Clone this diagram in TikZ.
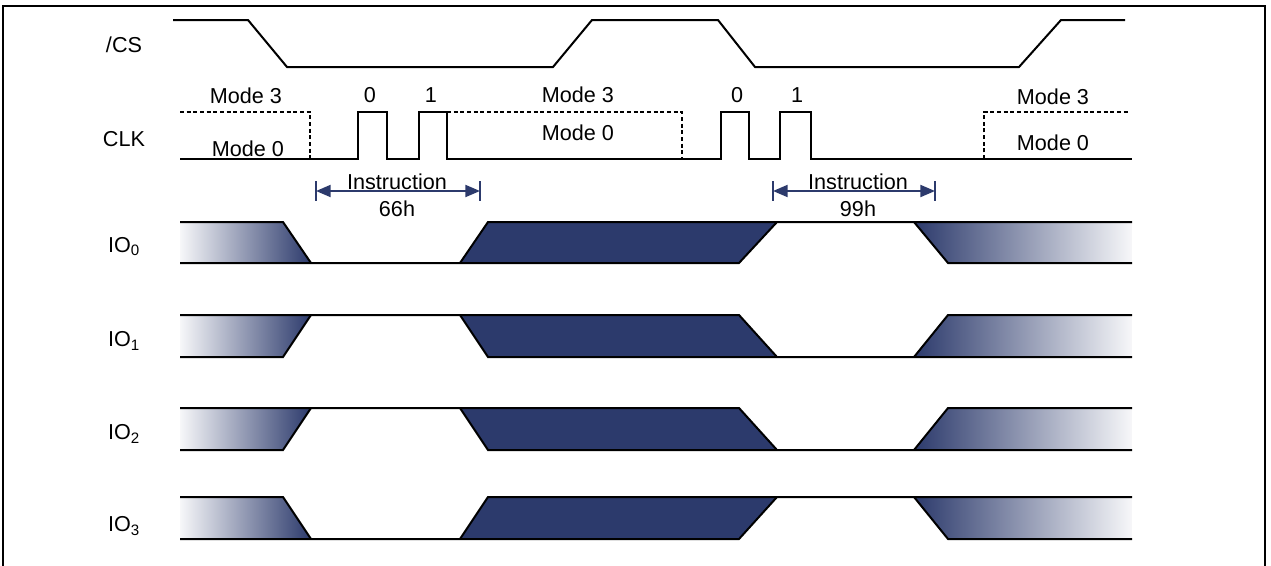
\documentclass[tikz,border=0pt]{standalone}
\usepackage{fontspec}
\setmainfont{Liberation Sans}
\usetikzlibrary{arrows.meta}
\definecolor{navy}{HTML}{2C3A6C}

\begin{document}
\begin{tikzpicture}[x=0.75pt,y=-0.75pt,
  sig/.style={line width=1.5pt},
  dsh/.style={line width=1.4pt,dash pattern=on 3pt off 2pt},
  arr/.style={{Triangle[length=11pt,width=9pt]}-{Triangle[length=11pt,width=9pt]},navy,line width=1.5pt},
  tck/.style={navy,line width=1.2pt},
  lbl/.style={inner sep=0pt,font=\fontsize{16.2}{19}\selectfont}]
\useasboundingbox (0,0) rectangle (1271,565);
\draw[line width=1.5pt] (3,566) -- (3,6) -- (1265,6) -- (1265,566);
% signal names
\node[lbl] (cs) at (124,45) {/CS};
\node[lbl] (clk) at (124,139.5) {CLK};
% chip select
\draw[sig] (173,20) -- (248,20) -- (287,67) -- (553,67) -- (592,20) -- (718,20)
  -- (755,67) -- (1019,67) -- (1061,20) -- (1125,20);
% clock, mode 0 solid and mode 3 dashed
\draw[sig] (180,159) -- (358,159) -- (358,112) -- (387,112) -- (387,159) -- (419,159)
  -- (419,112) -- (447,112) -- (447,159) -- (721,159) -- (721,112) -- (749,112)
  -- (749,159) -- (780,159) -- (780,112) -- (811,112) -- (811,159) -- (1132,159);
\draw[dsh] (180,112) -- (310,112) -- (310,159);
\draw[dsh] (447,112) -- (682,112) -- (682,159);
\draw[dsh] (984,159) -- (984,112) -- (1130,112);
\node[lbl] (m3a) at (246,96) {Mode 3};
\node[lbl] (m0a) at (248,149) {Mode 0};
\node[lbl] (b0a) at (370,95) {0};
\node[lbl] (b1a) at (431,95) {1};
\node[lbl] (m3b) at (578,95) {Mode 3};
\node[lbl] (m0b) at (578,133) {Mode 0};
\node[lbl] (b0b) at (737,95) {0};
\node[lbl] (b1b) at (797,95) {1};
\node[lbl] (m3c) at (1053,97) {Mode 3};
\node[lbl] (m0c) at (1053,143) {Mode 0};
% instruction spans
\coordinate (ia) at (316,191);
\coordinate (ib) at (480,191);
\coordinate (ic) at (773,191);
\coordinate (id) at (935,191);
\draw[tck] (316,181) -- (316,201);
\draw[tck] (480,181) -- (480,201);
\draw[tck] (773,181) -- (773,201);
\draw[tck] (935,181) -- (935,201);
\draw[arr] (ia) -- (ib);
\draw[arr] (ic) -- (id);
\node[lbl] (insa) at (397,182) {Instruction};
\node[lbl] (cmda) at (397,209) {66h};
\node[lbl] (insb) at (858,182) {Instruction};
\node[lbl] (cmdb) at (858,209) {99h};
% IO lines: \u is the level at x=283, \v the level at x=311
\foreach \u/\v/\i/\ly in {222/263/0/246.5, 357/315/1/341, 450/408/2/434, 497/539/3/526}{
  \shade[left color=navy!4,right color=navy] (180,\u) -- (283,\u) -- (311,\v) -- (180,\v) -- cycle;
  \fill[navy] (460,\v) -- (488,\u) -- (777,\u) -- (739,\v) -- cycle;
  \shade[left color=navy,right color=navy!4] (914,\u) -- (1132,\u) -- (1132,\v) -- (948,\v) -- cycle;
  \draw[sig] (180,\u) -- (283,\u) -- (311,\v);
  \draw[sig] (180,\v) -- (739,\v) -- (777,\u);
  \draw[sig] (460,\v) -- (488,\u) -- (1132,\u);
  \draw[sig] (914,\u) -- (948,\v) -- (1132,\v);
  \node[lbl] (io\i) at (124,\ly) {IO\textsubscript{\i}};
}
\end{tikzpicture}
\end{document}
